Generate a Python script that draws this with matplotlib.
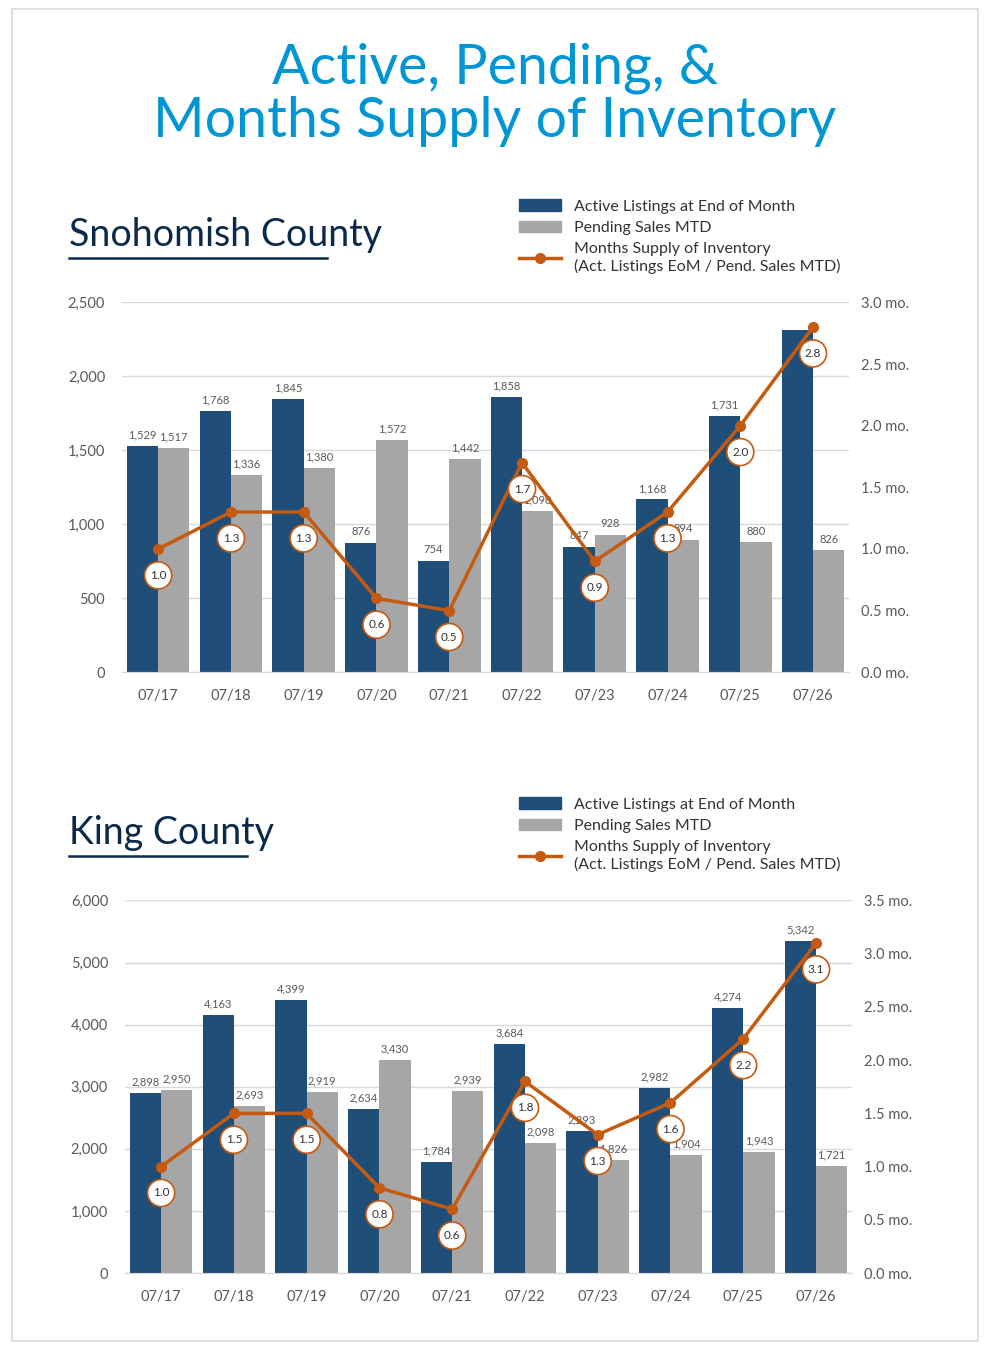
"""
Active, pending and months-supply chart for two counties.
Bars = listings / pending sales, line = months of supply on a twin axis.
"""

import matplotlib
matplotlib.use("Agg")   # non-interactive backend — no display needed
import matplotlib.pyplot as plt
import matplotlib.patches as mpatches
from matplotlib.lines import Line2D
import numpy as np

COLORS = {
    "active":  "#1F4E79",
    "pending": "#A6A6A6",
    "line":    "#C55A11",
    "title":   "#0096D6",
    "county":  "#0B2A4A",
    "grid":    "#D9D9D9",
    "text":    "#595959",
}

plt.rcParams["font.family"] = ["Lato", "DejaVu Sans"]

MONTHS = ["07/17", "07/18", "07/19", "07/20", "07/21",
          "07/22", "07/23", "07/24", "07/25", "07/26"]

SNOHOMISH = {
    "active":  [1529, 1768, 1845, 876, 754, 1858, 847, 1168, 1731, 2313],
    "pending": [1517, 1336, 1380, 1572, 1442, 1090, 928, 894, 880, 826],
    "supply":  [1.0, 1.3, 1.3, 0.6, 0.5, 1.7, 0.9, 1.3, 2.0, 2.8],
}
KING = {
    "active":  [2898, 4163, 4399, 2634, 1784, 3684, 2293, 2982, 4274, 5342],
    "pending": [2950, 2693, 2919, 3430, 2939, 2098, 1826, 1904, 1943, 1721],
    "supply":  [1.0, 1.5, 1.5, 0.8, 0.6, 1.8, 1.3, 1.6, 2.2, 3.1],
}


def draw_county(fig, rect, name, data, ymax, ystep, mo_max, hidden_active=()):
    """One county panel: grouped bars, supply line, labels and legend."""
    ax = fig.add_axes(rect)
    x = np.arange(len(MONTHS))
    w = 0.43

    ax.bar(x - w/2, data["active"], w, color=COLORS["active"], zorder=2)
    ax.bar(x + w/2, data["pending"], w, color=COLORS["pending"], zorder=2)
    for i, (a, p) in enumerate(zip(data["active"], data["pending"])):
        if i not in hidden_active:
            ax.text(i - w/2, a + ymax * 0.015, f"{a:,}", ha="center",
                    va="bottom", fontsize=8, color=COLORS["text"])
        ax.text(i + w/2, p + ymax * 0.015, f"{p:,}", ha="center",
                va="bottom", fontsize=8, color=COLORS["text"])

    ax.set_xlim(-0.5, len(MONTHS) - 0.5)
    ax.set_ylim(0, ymax)
    ax.set_yticks(np.arange(0, ymax + 1, ystep))
    ax.set_yticklabels([f"{v:,}" for v in np.arange(0, ymax + 1, ystep)])
    ax.set_xticks(x)
    ax.set_xticklabels(MONTHS)
    ax.tick_params(length=0, labelsize=10.5, colors=COLORS["text"], pad=12)
    ax.grid(axis="y", color=COLORS["grid"], linewidth=1, zorder=0)
    for s in ax.spines.values():
        s.set_visible(False)
    ax.spines["bottom"].set_visible(True)
    ax.spines["bottom"].set_color(COLORS["grid"])

    ax2 = ax.twinx()
    ax2.plot(x, data["supply"], "o-", color=COLORS["line"], linewidth=2.5,
             markersize=7, zorder=4)
    ax2.set_ylim(0, mo_max)
    ticks = np.arange(0, mo_max + 0.01, 0.5)
    ax2.set_yticks(ticks)
    ax2.set_yticklabels([f"{t:.1f} mo." for t in ticks])
    ax2.tick_params(length=0, labelsize=10.5, colors=COLORS["text"], pad=8)
    for s in ax2.spines.values():
        s.set_visible(False)
    for i, v in enumerate(data["supply"]):
        ax2.annotate(f"{v:.1f}", (i, v), xytext=(0, -19),
                     textcoords="offset points", ha="center", va="center",
                     fontsize=8.5, color="#333333", zorder=5,
                     bbox=dict(boxstyle="circle,pad=0.45", fc="white",
                               ec=COLORS["line"], lw=1.2))

    # county heading and legend sit above the plot
    top = rect[1] + rect[3]
    fig.text(0.07, top + 0.05, name, fontsize=27, color=COLORS["county"],
             va="center")
    fig.add_artist(Line2D([0.07, 0.07 + 0.0163 * len(name)],
                          [top + 0.033, top + 0.033],
                          color=COLORS["county"], lw=1.8))
    handles = [
        mpatches.Patch(color=COLORS["active"], label="Active Listings at End of Month"),
        mpatches.Patch(color=COLORS["pending"], label="Pending Sales MTD"),
        Line2D([], [], color=COLORS["line"], marker="o", lw=2.5, markersize=7,
               label="Months Supply of Inventory\n(Act. Listings EoM / Pend. Sales MTD)"),
    ]
    fig.legend(handles=handles, loc="upper left",
               bbox_to_anchor=(0.51, top + 0.087), frameon=False,
               fontsize=11.5, handlelength=2.6, labelspacing=0.45,
               labelcolor="#333333")
    return ax


fig = plt.figure(figsize=(9.9, 13.5), dpi=100)
fig.add_artist(mpatches.Rectangle((0.012, 0.007), 0.976, 0.986,
                                  fill=False, ec="#D9D9D9", lw=1.2))
fig.text(0.5, 0.93, "Active, Pending, &\nMonths Supply of Inventory",
         ha="center", va="center", fontsize=40, color=COLORS["title"],
         linespacing=1.05)

draw_county(fig, [0.123, 0.502, 0.735, 0.274], "Snohomish County",
            SNOHOMISH, 2500, 500, 3.0, hidden_active=(9,))
draw_county(fig, [0.126, 0.057, 0.735, 0.276], "King County",
            KING, 6000, 1000, 3.5)

fig.savefig("out.png", dpi=100)
plt.close(fig)
